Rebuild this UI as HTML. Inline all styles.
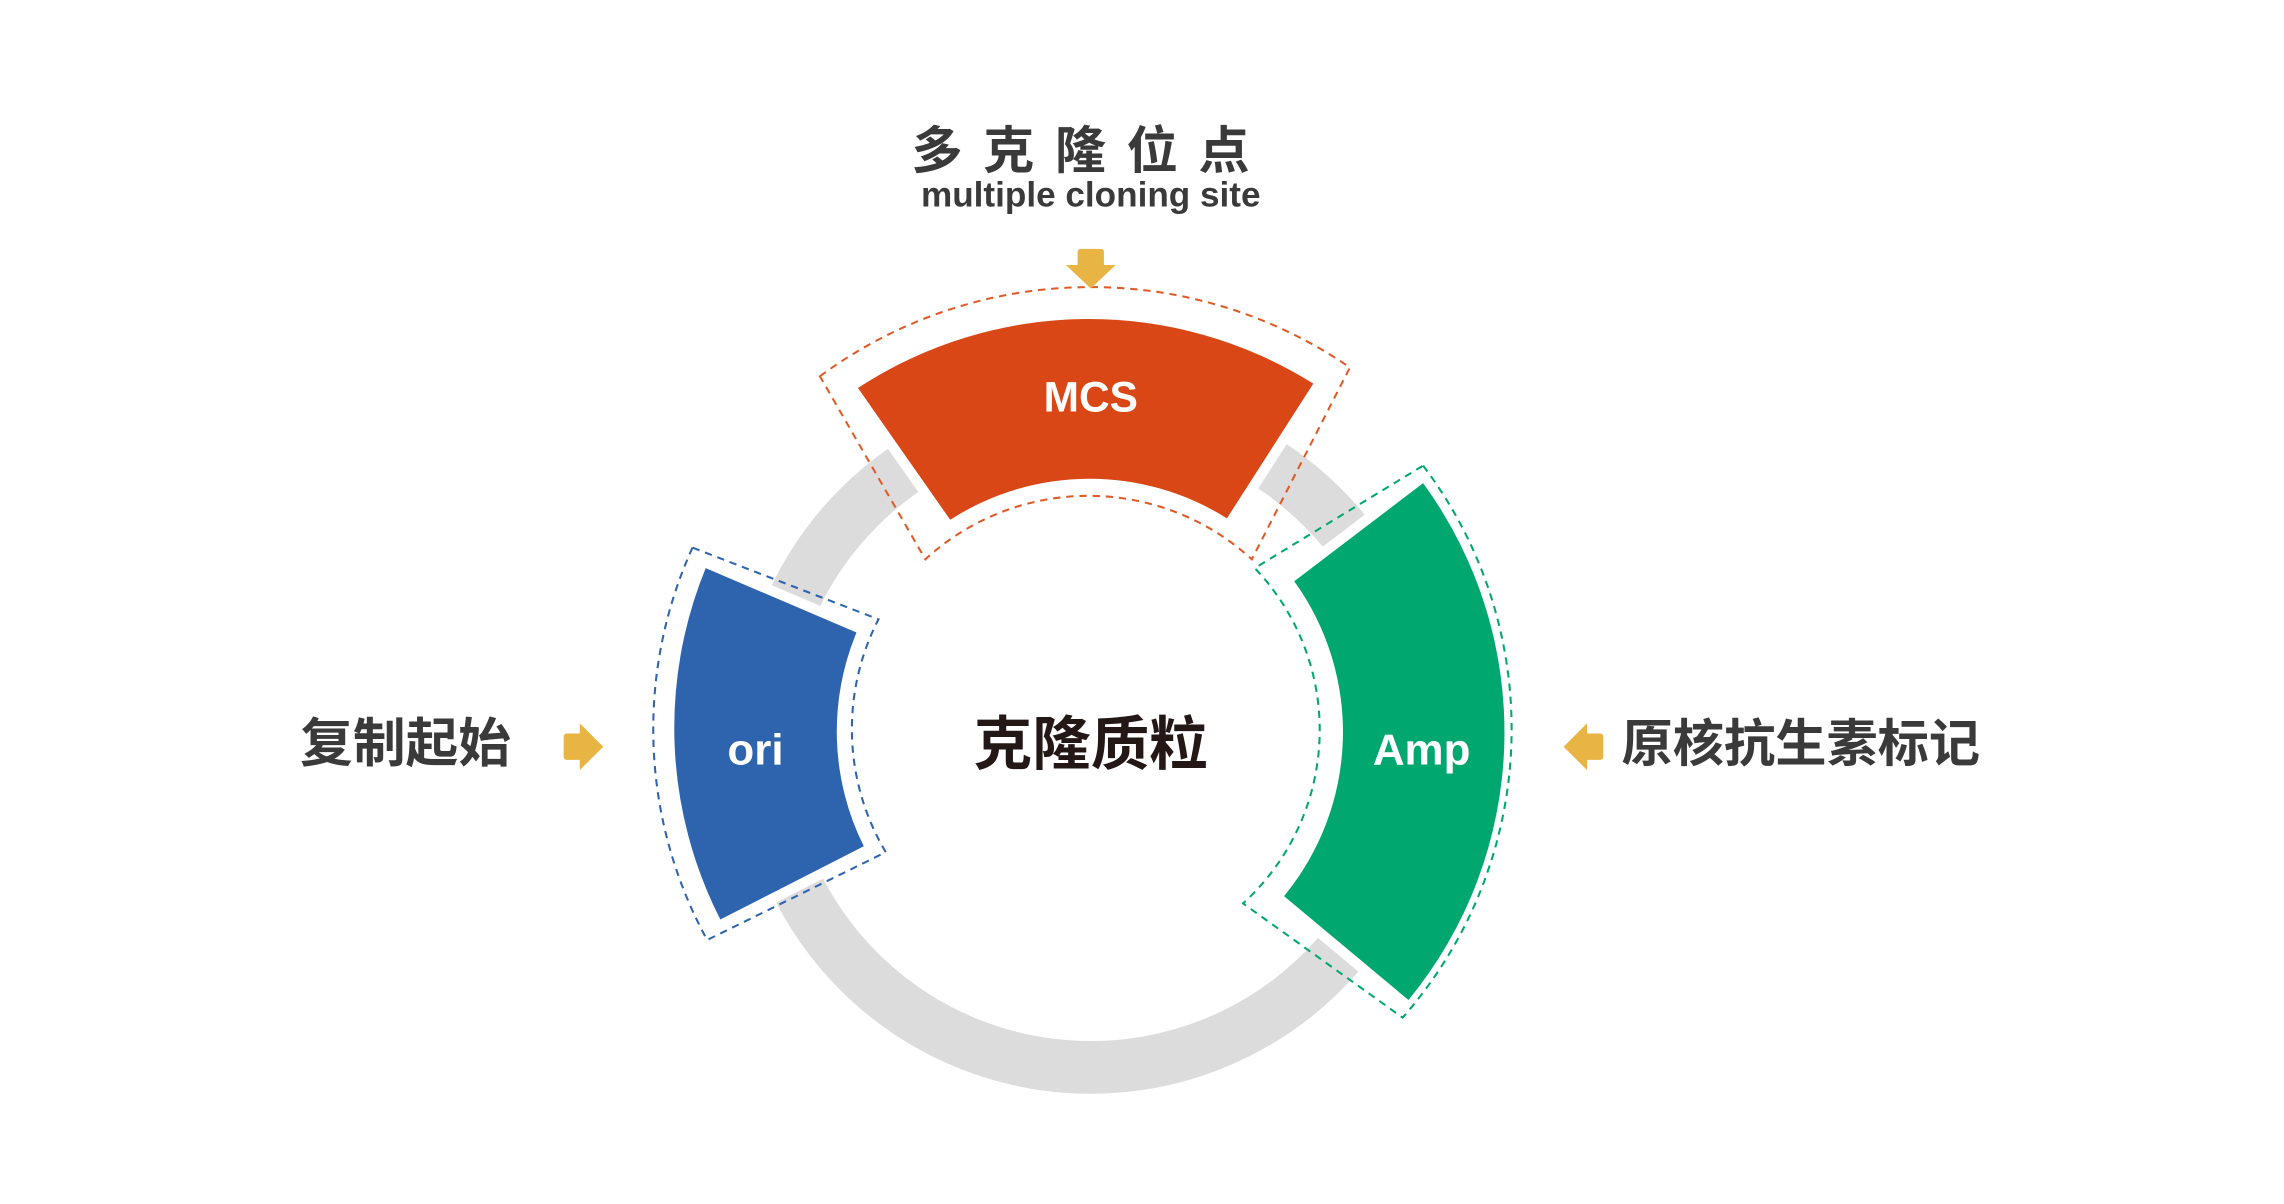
<!DOCTYPE html>
<html><head><meta charset="utf-8"><style>
html,body{margin:0;padding:0;background:#fff;}
svg{display:block;}
text{font-family:"Liberation Sans","Noto Sans CJK SC",sans-serif;}
</style></head><body>
<svg width="2284" height="1204" viewBox="0 0 1560 822.3" preserveAspectRatio="none" xmlns="http://www.w3.org/2000/svg">
<rect width="1560" height="822.3" fill="#fff"/>
<circle cx="745" cy="505" r="224" fill="none" stroke="#dcdcdc" stroke-width="36"/>
<g stroke="#fff" stroke-width="14" stroke-linejoin="miter">
<path d="M586,265 A288 288 0 0 1 897,262 L838,354 A176 176 0 0 0 649,355 Z" fill="#d94716"/>
<path d="M482,388 A288 288 0 0 0 492,628 L590,578 A176 176 0 0 1 585,432 Z" fill="#2d64ad"/>
<path d="M972,330 A288 288 0 0 1 962,683 L877,612 A176 176 0 0 0 884,397 Z" fill="#00a870"/>
</g>
<path d="M586,265 A288 288 0 0 1 897,262 L838,354 A176 176 0 0 0 649,355 Z" fill="#d94716"/>
<path d="M482,388 A288 288 0 0 0 492,628 L590,578 A176 176 0 0 1 585,432 Z" fill="#2d64ad"/>
<path d="M972,330 A288 288 0 0 1 962,683 L877,612 A176 176 0 0 0 884,397 Z" fill="#00a870"/>
<g fill="none" stroke-width="1.4" stroke-dasharray="5,4">
<path d="M560,257 A312 312 0 0 1 922,251 L855,382 A165 165 0 0 0 632,382 Z" stroke="#e05a26"/>
<path d="M473,374 A300 300 0 0 0 483,642 L605,582 A164 164 0 0 1 600,423 Z" stroke="#2d64ad"/>
<path d="M972,318 A298 298 0 0 1 958,695 L849,617 A160 160 0 0 0 857,388 Z" stroke="#00a870"/>
</g>
<g fill="#e8b443">
<rect x="736" y="170" width="18" height="14" rx="2"/>
<polygon points="728,181 762,181 745,197"/>
<rect x="385" y="501" width="14" height="18" rx="2"/>
<polygon points="396,494 396,526 412,510"/>
<rect x="1081" y="501" width="14" height="18" rx="2"/>
<polygon points="1084,494 1084,526 1068,510"/>
</g>
<text x="745" y="115" font-size="35" font-weight="bold" fill="#3a3a3a" text-anchor="middle" letter-spacing="14">多克隆位点</text>
<text x="745" y="141" font-size="24" font-weight="bold" fill="#3a3a3a" text-anchor="middle">multiple cloning site</text>
<text x="277" y="520" font-size="36" font-weight="bold" fill="#3a3a3a" text-anchor="middle">复制起始</text>
<text x="1230" y="520" font-size="35" font-weight="bold" fill="#3a3a3a" text-anchor="middle">原核抗生素标记</text>
<text x="745" y="522" font-size="40" font-weight="bold" fill="#231815" text-anchor="middle">克隆质粒</text>
<text x="745" y="281" font-size="29" font-weight="bold" fill="#fff" text-anchor="middle">MCS</text>
<text x="516" y="522" font-size="30" font-weight="bold" fill="#fff" text-anchor="middle">ori</text>
<text x="971" y="522" font-size="30" font-weight="bold" fill="#fff" text-anchor="middle">Amp</text>
</svg>
</body></html>
